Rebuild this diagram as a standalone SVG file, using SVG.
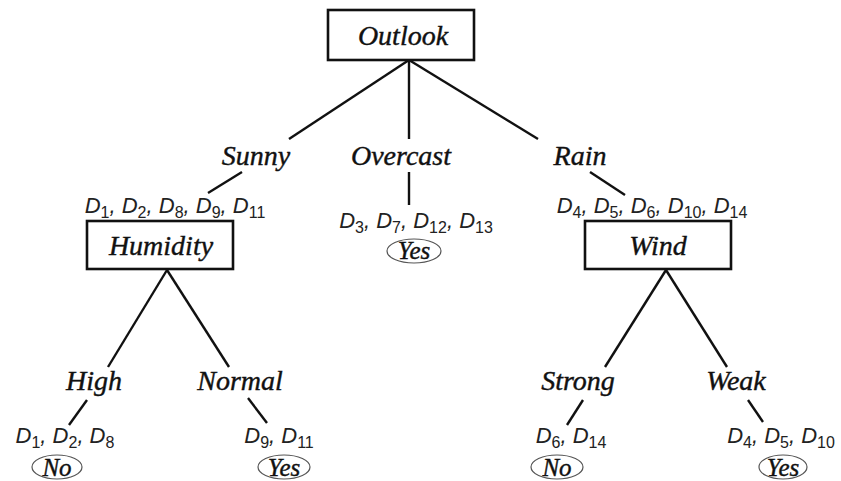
<svg xmlns="http://www.w3.org/2000/svg" width="841" height="481" viewBox="0 0 841 481">
<style>
.box{fill:#fff;stroke:#111;stroke-width:2.6}
.lbl{font-family:"Liberation Serif",serif;font-style:italic;font-size:28px;fill:#111;stroke:#111;stroke-width:0.4;text-anchor:middle}
.d{font-family:"Liberation Sans",sans-serif;font-style:italic;font-size:22px;fill:#222;text-anchor:middle}
.s{font-style:normal;font-size:16px}
.leaf{font-family:"Liberation Serif",serif;font-style:italic;font-size:25px;fill:#111;stroke:#111;stroke-width:0.4;text-anchor:middle}
.ell{fill:none;stroke:#555;stroke-width:1.2}
.edge{stroke:#111;stroke-width:2.4;fill:none}
</style>
<rect width="841" height="481" fill="#fff"/>
<g id="connectors">
<line class="edge" x1="409" y1="60" x2="289" y2="139"/>
<line class="edge" x1="409" y1="60" x2="409" y2="139"/>
<line class="edge" x1="409" y1="60" x2="538" y2="139"/>
<line class="edge" x1="242" y1="172" x2="208" y2="193"/>
<line class="edge" x1="409" y1="172" x2="409" y2="205"/>
<line class="edge" x1="590" y1="172" x2="625" y2="195"/>
<line class="edge" x1="167" y1="270" x2="108" y2="367"/>
<line class="edge" x1="167" y1="270" x2="229" y2="367"/>
<line class="edge" x1="666" y1="270" x2="605" y2="367"/>
<line class="edge" x1="666" y1="270" x2="727" y2="367"/>
<line class="edge" x1="87" y1="400" x2="69" y2="425"/>
<line class="edge" x1="248" y1="398" x2="267" y2="423"/>
<line class="edge" x1="583" y1="400" x2="567" y2="425"/>
<line class="edge" x1="748" y1="400" x2="763" y2="422"/>
</g>
<g id="outlook">
<rect class="box" x="328" y="10" width="146" height="50"/>
<text class="lbl" x="403" y="45">Outlook</text>
</g>
<g id="sunny"><text class="lbl" x="256" y="165">Sunny</text></g>
<g id="overcast"><text class="lbl" x="401" y="165">Overcast</text></g>
<g id="rain"><text class="lbl" x="580" y="165">Rain</text></g>
<g id="humidity">
<text class="d" x="175" y="213">D<tspan class="s" dy="5">1</tspan><tspan dy="-5">, D</tspan><tspan class="s" dy="5">2</tspan><tspan dy="-5">, D</tspan><tspan class="s" dy="5">8</tspan><tspan dy="-5">, D</tspan><tspan class="s" dy="5">9</tspan><tspan dy="-5">, D</tspan><tspan class="s" dy="5">11</tspan></text>
<rect class="box" x="87" y="221" width="146" height="48"/>
<text class="lbl" x="161" y="255">Humidity</text>
</g>
<g id="overcast-leaf">
<text class="d" x="416" y="228">D<tspan class="s" dy="5">3</tspan><tspan dy="-5">, D</tspan><tspan class="s" dy="5">7</tspan><tspan dy="-5">, D</tspan><tspan class="s" dy="5">12</tspan><tspan dy="-5">, D</tspan><tspan class="s" dy="5">13</tspan></text>
<ellipse class="ell" cx="414" cy="251" rx="27" ry="12"/>
<text class="leaf" x="414" y="259">Yes</text>
</g>
<g id="wind">
<text class="d" x="652" y="213">D<tspan class="s" dy="5">4</tspan><tspan dy="-5">, D</tspan><tspan class="s" dy="5">5</tspan><tspan dy="-5">, D</tspan><tspan class="s" dy="5">6</tspan><tspan dy="-5">, D</tspan><tspan class="s" dy="5">10</tspan><tspan dy="-5">, D</tspan><tspan class="s" dy="5">14</tspan></text>
<rect class="box" x="585" y="221" width="146" height="48"/>
<text class="lbl" x="658" y="255">Wind</text>
</g>
<g id="high"><text class="lbl" x="94" y="390">High</text></g>
<g id="normal"><text class="lbl" x="240" y="390">Normal</text></g>
<g id="strong"><text class="lbl" x="578" y="390">Strong</text></g>
<g id="weak"><text class="lbl" x="736" y="390">Weak</text></g>
<g id="high-leaf">
<text class="d" x="65" y="443">D<tspan class="s" dy="5">1</tspan><tspan dy="-5">, D</tspan><tspan class="s" dy="5">2</tspan><tspan dy="-5">, D</tspan><tspan class="s" dy="5">8</tspan></text>
<ellipse class="ell" cx="57" cy="467" rx="25" ry="12"/>
<text class="leaf" x="57" y="476">No</text>
</g>
<g id="normal-leaf">
<text class="d" x="279" y="443">D<tspan class="s" dy="5">9</tspan><tspan dy="-5">, D</tspan><tspan class="s" dy="5">11</tspan></text>
<ellipse class="ell" cx="284" cy="467" rx="26" ry="12"/>
<text class="leaf" x="284" y="476">Yes</text>
</g>
<g id="strong-leaf">
<text class="d" x="571" y="443">D<tspan class="s" dy="5">6</tspan><tspan dy="-5">, D</tspan><tspan class="s" dy="5">14</tspan></text>
<ellipse class="ell" cx="557" cy="467" rx="26" ry="12"/>
<text class="leaf" x="557" y="476">No</text>
</g>
<g id="weak-leaf">
<text class="d" x="781" y="443">D<tspan class="s" dy="5">4</tspan><tspan dy="-5">, D</tspan><tspan class="s" dy="5">5</tspan><tspan dy="-5">, D</tspan><tspan class="s" dy="5">10</tspan></text>
<ellipse class="ell" cx="783" cy="467" rx="24" ry="12"/>
<text class="leaf" x="783" y="476">Yes</text>
</g>
</svg>
